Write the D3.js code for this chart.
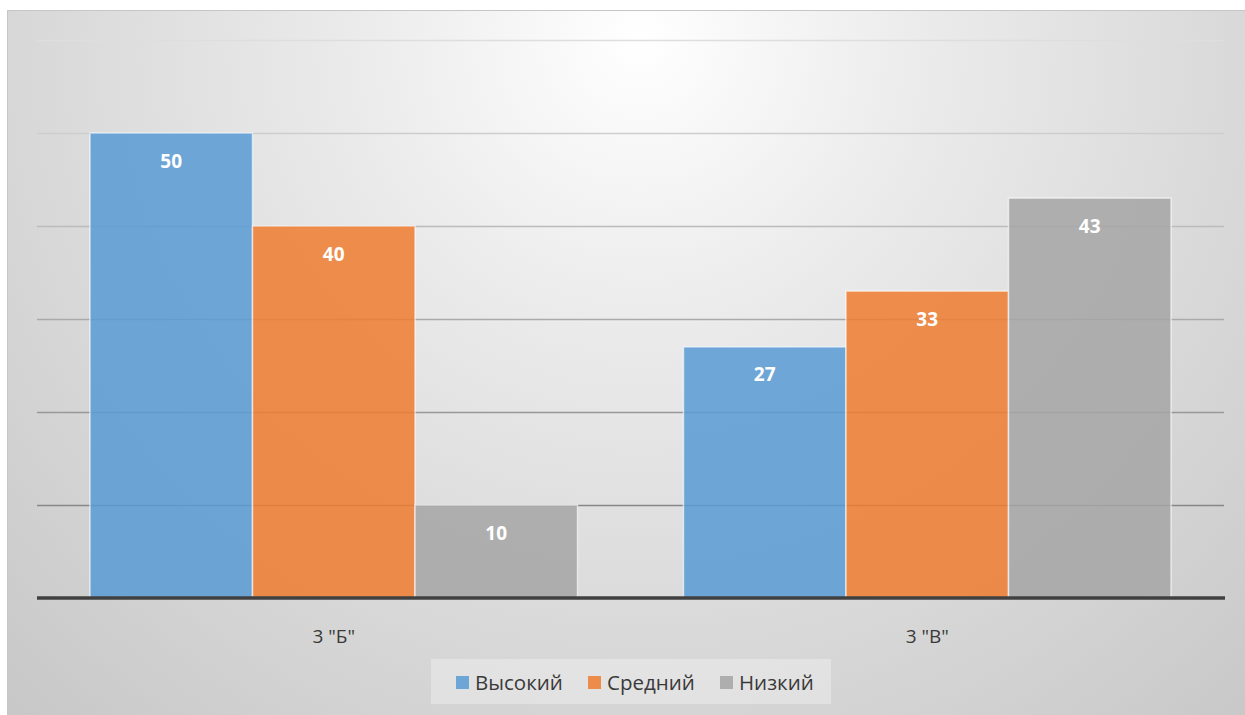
<!DOCTYPE html>
<html>
<head>
<meta charset="utf-8">
<style>
body { margin: 0; background: #fff; }
svg { display: block; font-family: "Open Sans", sans-serif; }
.value { fill: #fff; font-weight: 700; font-size: 19px; }
.cat { fill: #3a3a3a; font-size: 19px; }
.legend-text { fill: #3a3a3a; font-size: 20.5px; }
</style>
</head>
<body>
<script src="https://cdn.jsdelivr.net/npm/d3@7"></script>
<script>
// data
var categories = ['3 "Б"', '3 "В"'];
var seriesNames = ["Высокий", "Средний", "Низкий"];
var vysokiy = [50, 27];
var sredniy = [40, 33];
var nizkiy = [10, 43];
var yTicks = [0, 10, 20, 30, 40, 50, 60];

var colors = ["#5b9bd5", "#ed7d31", "#a5a5a5"];
var series = [vysokiy, sredniy, nizkiy];

var width = 1245, height = 715;
var plot = {left: 37, right: 1224, top: 40, bottom: 598};

var svg = d3.select("body").append("svg")
	.attr("width", width)
	.attr("height", height);

var defs = svg.append("defs");
var bg = defs.append("radialGradient")
	.attr("id", "bg")
	.attr("gradientUnits", "userSpaceOnUse")
	.attr("cx", 640).attr("cy", 40).attr("r", 950);
bg.append("stop").attr("offset", 0).attr("stop-color", "#ffffff");
bg.append("stop").attr("offset", 0.3).attr("stop-color", "#ebebeb");
bg.append("stop").attr("offset", 0.65).attr("stop-color", "#d8d8d8");
bg.append("stop").attr("offset", 1).attr("stop-color", "#c6c6c6");

// chart frame
svg.append("rect")
	.attr("x", 7.5).attr("y", 10.5)
	.attr("width", width).attr("height", height)
	.attr("fill", "url(#bg)")
	.attr("stroke", "#c6c6c6");

var x0 = d3.scaleBand()
	.domain(categories)
	.range([plot.left, plot.right])
	.paddingInner(0.1786)
	.paddingOuter(0.0893);

var x1 = d3.scaleBand()
	.domain(d3.range(seriesNames.length))
	.range([0, x0.bandwidth()]);

var y = d3.scaleLinear()
	.domain([0, 60])
	.range([plot.bottom, plot.top]);

// gridlines, darker toward the bottom
var gridColor = d3.scaleLinear()
	.domain([10, 60])
	.range(["#878787", "#dedede"]);

svg.append("g").selectAll("line")
	.data(yTicks.filter(function(d) { return d > 0; }))
	.enter().append("line")
	.attr("x1", plot.left).attr("x2", plot.right)
	.attr("y1", function(d) { return Math.round(y(d)) + 0.5; })
	.attr("y2", function(d) { return Math.round(y(d)) + 0.5; })
	.attr("stroke", function(d) { return gridColor(d); })
	.attr("stroke-width", 1.5);

// bars
var groups = svg.append("g").selectAll("g")
	.data(categories)
	.enter().append("g")
	.attr("transform", function(d) { return "translate(" + x0(d) + ",0)"; });

groups.selectAll("rect")
	.data(function(d, ci) { return series.map(function(s, si) { return {si: si, v: s[ci]}; }); })
	.enter().append("rect")
	.attr("x", function(d) { return x1(d.si); })
	.attr("y", function(d) { return y(d.v); })
	.attr("width", x1.bandwidth())
	.attr("height", function(d) { return y(0) - y(d.v); })
	.attr("fill", function(d) { return colors[d.si]; })
	.attr("fill-opacity", 0.86)
	.attr("stroke", "#ffffff")
	.attr("stroke-opacity", 0.6)
	.attr("stroke-width", 1.5);

groups.selectAll("text")
	.data(function(d, ci) { return series.map(function(s, si) { return {si: si, v: s[ci]}; }); })
	.enter().append("text")
	.attr("class", "value")
	.attr("x", function(d) { return x1(d.si) + x1.bandwidth() / 2; })
	.attr("y", function(d) { return y(d.v) + 34.5; })
	.attr("text-anchor", "middle")
	.text(function(d) { return d.v; });

// axis baseline
svg.append("line")
	.attr("x1", plot.left).attr("x2", plot.right + 1)
	.attr("y1", y(0)).attr("y2", y(0))
	.attr("stroke", "#404040")
	.attr("stroke-width", 3.5);

svg.append("g").selectAll("text")
	.data(categories)
	.enter().append("text")
	.attr("class", "cat")
	.attr("x", function(d) { return x0(d) + x0.bandwidth() / 2; })
	.attr("y", 643)
	.attr("text-anchor", "middle")
	.text(function(d) { return d; });

// legend
svg.append("rect")
	.attr("x", 431).attr("y", 659)
	.attr("width", 400).attr("height", 45)
	.attr("fill", "#ffffff")
	.attr("fill-opacity", 0.3);

var legendX = [456, 588, 720];
var legend = svg.append("g").selectAll("g")
	.data(seriesNames)
	.enter().append("g")
	.attr("transform", function(d, i) { return "translate(" + legendX[i] + ",676)"; });

legend.append("rect")
	.attr("width", 13).attr("height", 13)
	.attr("fill", function(d, i) { return colors[i]; })
	.attr("fill-opacity", 0.86);

legend.append("text")
	.attr("class", "legend-text")
	.attr("x", 19).attr("y", 14)
	.text(function(d) { return d; });
</script>
</body>
</html>
